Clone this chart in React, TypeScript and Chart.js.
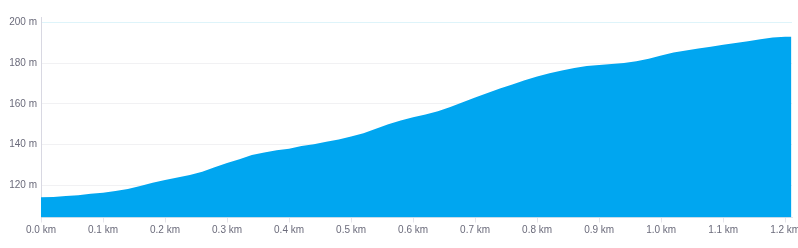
import React, { useEffect, useRef } from "react";
import { Chart, registerables } from "chart.js";

Chart.register(...registerables);

const distancesKm = [
  0.0, 0.02, 0.04, 0.06, 0.08, 0.1, 0.12, 0.14, 0.16, 0.18, 0.2, 0.22, 0.24, 0.26, 0.28, 0.3,
  0.32, 0.34, 0.36, 0.38, 0.4, 0.42, 0.44, 0.46, 0.48, 0.5, 0.52, 0.54, 0.56, 0.58, 0.6,
  0.62, 0.64, 0.66, 0.68, 0.7, 0.72, 0.74, 0.76, 0.78, 0.8, 0.82, 0.84, 0.86, 0.88, 0.9,
  0.92, 0.94, 0.96, 0.98, 1.0, 1.02, 1.04, 1.06, 1.08, 1.1, 1.12, 1.14, 1.16, 1.18, 1.2, 1.21,
];

const elevationsM = [
  114.1, 114.3, 114.7, 115.1, 115.8, 116.4, 117.2, 118.2, 119.7, 121.2, 122.6, 123.8, 125.0, 126.7, 128.9, 131.0,
  132.8, 134.9, 136.1, 137.2, 138.0, 139.3, 140.2, 141.4, 142.5, 144.0, 145.6, 147.8, 150.0, 151.8, 153.4,
  154.8, 156.3, 158.4, 160.8, 163.1, 165.3, 167.5, 169.5, 171.6, 173.4, 175.0, 176.4, 177.6, 178.5, 179.0,
  179.5, 180.0, 180.9, 182.1, 183.7, 185.2, 186.2, 187.1, 188.0, 189.0, 189.8, 190.7, 191.7, 192.5, 192.9, 192.9,
];

const xTicksKm = [0, 0.1, 0.2, 0.3, 0.4, 0.5, 0.6, 0.7, 0.8, 0.9, 1.0, 1.1, 1.2];
const yTicksM = [120, 140, 160, 180, 200];

export default function App() {
  const canvasRef = useRef<HTMLCanvasElement | null>(null);

  useEffect(() => {
    document.body.style.margin = "0";
    const canvas = canvasRef.current;
    if (!canvas) return;
    const font = { family: "'Liberation Sans', Arial, sans-serif", size: 10 };
    const chart = new Chart(canvas, {
      type: "line",
      data: {
        datasets: [
          {
            data: distancesKm.map((x, i) => ({ x, y: elevationsM[i] })),
            borderWidth: 0,
            borderColor: "#00a6f0",
            backgroundColor: "#00a6f0",
            fill: "origin",
            pointRadius: 0,
            tension: 0,
          },
        ],
      },
      options: {
        responsive: false,
        animation: false,
        layout: { padding: { top: 17, right: 6, left: 0, bottom: 0 } },
        plugins: { legend: { display: false }, tooltip: { enabled: false } },
        scales: {
          x: {
            type: "linear",
            min: 0,
            max: 1.211,
            afterBuildTicks: (scale: any) => {
              scale.ticks = xTicksKm.map((v) => ({ value: v }));
            },
            afterFit: (scale: any) => {
              scale.height = 30.5;
              scale.paddingLeft = 0;
              scale.paddingRight = 0;
            },
            ticks: {
              color: "#6b6b7b",
              font,
              padding: 2,
              maxRotation: 0,
              autoSkip: false,
              callback: (v: any) => Number(v).toFixed(1) + " km",
            },
            grid: {
              drawOnChartArea: false,
              drawTicks: true,
              tickLength: 5,
              color: "#e4e4ea",
            },
            border: { display: true, color: "#e4e4ea" },
          },
          y: {
            type: "linear",
            min: 104.2,
            max: 202.6,
            afterBuildTicks: (scale: any) => {
              scale.ticks = yTicksM.map((v) => ({ value: v }));
            },
            afterFit: (scale: any) => {
              scale.width = 41;
            },
            ticks: {
              color: "#6b6b7b",
              font,
              padding: 4,
              callback: (v: any) => v + " m",
            },
            grid: {
              drawTicks: false,
              color: (ctx: any) =>
                ctx.tick && ctx.tick.value === 200 ? "rgba(222,244,250,1)" : "#f1f1f3",
            },
            border: { display: true, color: "#d8d8e2" },
          },
        },
      },
    });
    return () => chart.destroy();
  }, []);

  return (
    <div style={{ width: 798, height: 248 }}>
      <canvas ref={canvasRef} width={798} height={248} style={{ display: "block" }} />
    </div>
  );
}
